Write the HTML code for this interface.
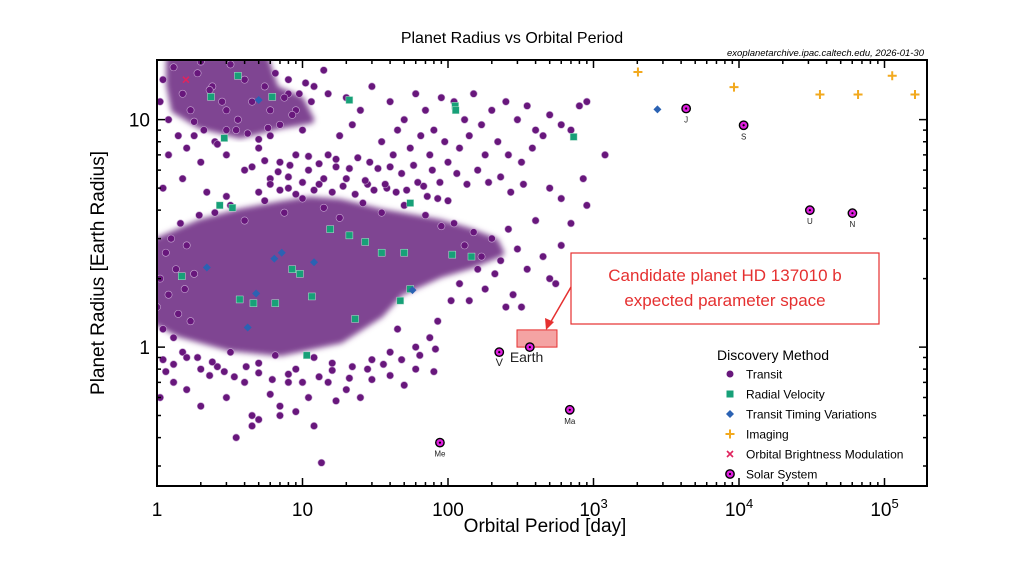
<!DOCTYPE html>
<html><head><meta charset="utf-8"><style>
html,body{margin:0;padding:0;background:#fff;width:1024px;height:577px;overflow:hidden}
svg{display:block;font-family:"Liberation Sans",Arial,sans-serif}
</style></head><body>
<svg id="chart" width="1024" height="577" viewBox="0 0 1024 577">
<defs><filter id="soft" x="-10%" y="-10%" width="120%" height="120%"><feGaussianBlur stdDeviation="3"/></filter></defs>
<text x="512" y="43" text-anchor="middle" font-size="16" fill="#000">Planet Radius vs Orbital Period</text>
<text x="924" y="56" text-anchor="end" font-size="9.5" font-style="italic" fill="#000">exoplanetarchive.ipac.caltech.edu, 2026-01-30</text>
<g id="plot"></g>
<text x="545" y="532" text-anchor="middle" font-size="19" fill="#000">Orbital Period [day]</text>
<text transform="translate(104,273) rotate(-90)" text-anchor="middle" font-size="19" fill="#000">Planet Radius [Earth Radius]</text>
</svg>
<script>
const transitPeriod=[12,15,20,25,30,40,50,60,70,80,90,110,130,150,170,200,250,300,350,400,500,600,800,900,14,9,8,10,18,22,35,45,55,65,75,95,120,140,180,220,260,320,380,450,700,1200,850,600,500,900,
1.2,1.5,2,2.5,3,4,5,6,7,8,9,11,13,15,17,20,24,28,33,38,42,48,58,68,78,88,100,115,135,160,190,230,270,330,1.8,3.5,6,1.1,2.2,
110,130,150,170,200,230,260,300,350,400,450,500,550,120,140,180,210,280,320,600,700,250,105,160,
1.05,1.3,1.6,2,2.3,3,3.5,4,4.5,5,6,7,8,9,11,12,13.5,15,17,20,25,30,40,50,60,80,4.5,7,2.6,1.15,
1,1.05,1.1,1.15,1.2,1.25,1.3,1.35,1.4,1.45,1.5,1.55,1.6,1.7,1.8,1.9,1.95,
2.5,3.2,4,5.5,7.5,10,14,18,26,35,50,70,90,3,
3.2,5,6.5,9,12,16,22,30,40,60,75,85,45,
1.05,1.1,1.2,1.3,1.4,1.5,1.7,1.9,2.1,2.4,2.8,3.2,3.6,4,4.5,5,5.5,6,6.5,7,7.5,8,8.5,9.5,1.6,2.6,3,4.2,2,3,2.3,1.8,5.8,10.5,11.5,
5,6,7,8,9,10,12,14,16,19,23,27,31,37,44,52,62,72,85,100,4.5,5.5,6.8,8.2,11,13,17,21,29,40,
1.1,1.3,1.6,2,2.4,2.9,3.4,4.1,5,6.2,8,10,13,16,21,28,36,48,64,82];
const transitRadius=[14,13,12.5,11,14,12,10,13,11,9,12.5,12,10,13,9.5,11,12,10,11.5,9,10.5,9.5,11.5,12,16.5,11,13,9,8.5,9.5,8,9,7.5,8.5,7,8,7.5,8.5,7,8,7,6.5,7.5,8.5,9,7,5.5,4.5,5,4.2,
7,5.5,6.5,8,7,6,7.5,5.5,6.5,5,7,6,5.2,7,6.2,5.5,6.8,5.2,6.1,5,7,5.8,6.3,5.1,6,5.3,6.5,5.8,5.2,6,5.3,5.6,4.8,5.2,8.5,9,8.5,5,4.8,
3.5,2.8,3.2,2.5,3,2.4,3.3,2.7,2.2,3.6,2.5,2,1.9,1.9,1.6,1.8,2.1,1.7,1.5,2.8,3.5,1.5,1.6,2.2,
0.6,0.7,0.65,0.55,0.75,0.6,0.4,0.7,0.5,0.48,0.62,0.55,0.7,0.52,0.6,0.45,0.31,0.7,0.58,0.65,0.6,0.72,0.75,0.68,0.8,0.78,0.45,0.5,0.82,0.78,
1.5,2,1.2,2.6,1.7,3,1.1,2.2,1.4,3.5,0.95,1.8,2.8,1.3,2.1,0.9,3.8,
3.9,4.2,3.6,4.4,3.9,4.5,4.1,3.7,4.3,3.9,4.2,3.8,3.4,4.6,
0.95,0.85,0.92,0.8,0.9,0.85,0.82,0.88,0.95,1.0,1.1,1.3,1.2,
12,15,10,17,8.5,13,11,16,9,14,12,17.5,10,15,12,8.2,14,11,16,9.5,12.5,15,10.5,13,7.5,7.8,9,8.7,18,11,13.5,9.8,9.2,14.5,12,
4.8,5.2,4.9,5.6,4.7,5.3,4.9,5.5,4.8,5.1,4.7,5.4,4.9,5.2,4.8,4.9,5.3,4.6,4.5,4.4,6.2,6.6,5.9,6.3,6.9,6.4,6.7,6.1,6.5,6.2,
0.88,0.84,0.9,0.8,0.86,0.78,0.74,0.82,0.77,0.72,0.76,0.7,0.74,0.79,0.73,0.8,0.84,0.88,0.92,0.98];
const densePeriod=[1,1.98,3.72,7.0,11.3,18.1,34.1,88,142,210,228,142,88,46.8,34.1,18.1,7.0,3.18,1.44,1];
const denseRadius=[2.9,3.5,3.9,4.2,4.4,4.3,3.9,3.5,3.2,2.9,2.6,2.3,2.1,1.75,1.4,1.08,0.95,1.0,1.15,1.3];
const hotPeriod=[1.23,5.52,6.47,9.6,11.3,7.0,3.72,1.98,1.33,1.23];
const hotRadius=[18.3,18.3,13.6,12.2,10,9.5,8.6,9.5,11.1,14.3];
const rvPeriod=[3.6,2.35,6.2,21,2.9,3.3,2.7,112,113,730,55,15.5,21,27,35,50,107,145,8.5,9.6,11.6,3.7,4.6,6.5,1.48,47,55,10.7,23];
const rvRadius=[15.6,12.6,12.6,12.2,8.3,4.1,4.2,11.5,11,8.4,4.3,3.3,3.1,2.9,2.6,2.6,2.55,2.5,2.2,2.1,1.67,1.62,1.56,1.56,2.05,1.6,1.8,0.92,1.33];
const ttvPeriod=[5,7.2,6.4,12,2.2,4.8,4.2,2750,57];
const ttvRadius=[12.2,2.6,2.45,2.36,2.24,1.72,1.22,11.1,1.78];
const imgPeriod=[2020,9240,36000,65800,113000,162000];
const imgRadius=[16.2,13.9,12.9,12.9,15.6,12.9];
const obmPeriod=[1.58];
const obmRadius=[15];
const solarNames=["Me","V","Earth","Ma","J","S","U","N"];
const solarPeriod=[88,225,365,687,4333,10759,30687,60190];
const solarRadius=[0.38,0.95,1,0.53,11.2,9.45,4.0,3.88];
const candPeriod=[298,561];
const candRadius=[1.0,1.19];
const xTickVals=[1,10,100,1000,10000,100000];
const xTickLabels=["1","10","100","10","10","10"];
const xTickExp=["","","","3","4","5"];
const yTickVals=[1,10];
const yTickLabels=["1","10"];

const NS="http://www.w3.org/2000/svg";
const L=157,R=927,T=60,B=486;
const xMin=0,xMax=(R-L)/145.5;
const yMin=Math.log10(0.245),yMax=Math.log10(18.3);
function xs(p){return L+(Math.log10(p)-xMin)/(xMax-xMin)*(R-L);}
function ys(r){return B-(Math.log10(r)-yMin)/(yMax-yMin)*(B-T);}
const plot=document.getElementById('plot');
function mk(tag,attrs,parent){const e=document.createElementNS(NS,tag);for(const k in attrs)e.setAttribute(k,attrs[k]);(parent||plot).appendChild(e);return e;}

const clip=mk('clipPath',{id:'clip'});mk('rect',{x:L,y:T,width:R-L,height:B-T},clip);
const g=mk('g',{'clip-path':'url(#clip)'});



let d=densePeriod.map((p,i)=>(i?'L':'M')+xs(p)+','+ys(denseRadius[i])).join('')+'Z';
let dp=mk('path',{d:d,fill:'#7f4592',stroke:'#7f4592','stroke-width':8,'stroke-linejoin':'round',filter:'url(#soft)'},g);


d=hotPeriod.map((p,i)=>(i?'L':'M')+xs(p)+','+ys(hotRadius[i])).join('')+'Z';
let hp=mk('path',{d:d,fill:'#7f4592',stroke:'#7f4592','stroke-width':8,'stroke-linejoin':'round',filter:'url(#soft)'},g);



transitPeriod.forEach((p,i)=>{
 const c=mk('circle',{cx:xs(p),cy:ys(transitRadius[i]),r:3.6,fill:'#68177c',stroke:'#c9a8d4','stroke-width':0.6},g);
 
 
});
rvPeriod.forEach((p,i)=>{
 const x=xs(p),y=ys(rvRadius[i]);
 const s=mk('rect',{x:x-3.5,y:y-3.5,width:7,height:7,fill:'#17a078',stroke:'#b8e0d0','stroke-width':0.5},g);
 
 
});
ttvPeriod.forEach((p,i)=>{
 const x=xs(p),y=ys(ttvRadius[i]);
 const s=mk('path',{d:`M${x},${y-4}L${x+4},${y}L${x},${y+4}L${x-4},${y}Z`,fill:'#2b62b3'},g);
 
 
});
imgPeriod.forEach((p,i)=>{
 const x=xs(p),y=ys(imgRadius[i]);
 const s=mk('path',{d:`M${x-4.5},${y}H${x+4.5}M${x},${y-4.5}V${y+4.5}`,stroke:'#f2a91e','stroke-width':2},g);
 
 
});
obmPeriod.forEach((p,i)=>{
 const x=xs(p),y=ys(obmRadius[i]);
 const s=mk('path',{d:`M${x-3},${y-3}L${x+3},${y+3}M${x+3},${y-3}L${x-3},${y+3}`,stroke:'#e0245e','stroke-width':1.6},g);
 
 
});
const cr=mk('rect',{x:xs(candPeriod[0]),y:ys(candRadius[1]),width:xs(candPeriod[1])-xs(candPeriod[0]),height:ys(candRadius[0])-ys(candRadius[1]),fill:'#f4a3a3',stroke:'#e53030','stroke-width':1});


solarPeriod.forEach((p,i)=>{
 const x=xs(p),y=ys(solarRadius[i]);
 const c=mk('circle',{cx:x,cy:y,r:4.2,fill:'#e020e0',stroke:'#000','stroke-width':1.4});
 
 
 const dot=mk('circle',{cx:x,cy:y,r:1.1,fill:'#000'});
 
 
 const big=solarNames[i]==='Earth';
 const t=mk('text',{x:big?x-20:x,y:y+(big?15:14),'text-anchor':big?'start':'middle','font-size':big?14:(solarNames[i]==='V'?11:8),fill:'#222'});
 t.textContent=big?'Earth':solarNames[i];
 
 
});
const fr=mk('rect',{x:L,y:T,width:R-L,height:B-T,fill:'none',stroke:'#000','stroke-width':2});


let tk='';
for(let e=0;e<=5;e++)for(let m=1;m<10;m++){const x=xs(m*Math.pow(10,e));if(x>R)continue;const len=m===1?8:4;tk+=`M${x},${B}v${-len}M${x},${T}v${len}`;}
for(let e=-1;e<=1;e++)for(let m=1;m<10;m++){const v=m*Math.pow(10,e);const y=ys(v);if(y<T||y>B)continue;const len=m===1?8:4;tk+=`M${L},${y}h${len}M${R},${y}h${-len}`;}
const tp=mk('path',{d:tk,stroke:'#000','stroke-width':1.5});


xTickVals.forEach((v,i)=>{
 const t=mk('text',{x:xs(v),y:516,'text-anchor':'middle','font-size':19,fill:'#000'});
 t.textContent=xTickLabels[i];
 if(xTickExp[i]){const s=mk('tspan',{dy:-8,'font-size':13},t);s.textContent=xTickExp[i];}
 
 
});
yTickVals.forEach((v,i)=>{
 const t=mk('text',{x:150,y:ys(v)+7,'text-anchor':'end','font-size':19,fill:'#000'});
 t.textContent=yTickLabels[i];
 
 
});
const ab=mk('rect',{x:571,y:253,width:308,height:71,fill:'#fff',stroke:'#e53030','stroke-width':1.2});


[["Candidate planet HD 137010 b",281],["expected parameter space",306]].forEach(a=>{
 const t=mk('text',{x:725,y:a[1],'text-anchor':'middle','font-size':17,fill:'#e53030'});
 t.textContent=a[0];
 
 
});
const ar=mk('path',{d:'M571,287L549,325',stroke:'#e53030','stroke-width':1.5});


const ah=mk('path',{d:'M546,330L545,318L554,322Z',fill:'#e53030'});


const lg=mk('g',{});


const lt=mk('text',{x:717,y:360,'font-size':14,fill:'#000'},lg);lt.textContent='Discovery Method';


const items=['Transit','Radial Velocity','Transit Timing Variations','Imaging','Orbital Brightness Modulation','Solar System'];
items.forEach((n,i)=>{
 const y=374+i*20,x=730;
 let m;
 if(i===0)m=mk('circle',{cx:x,cy:y,r:3.5,fill:'#68177c'},lg);
 if(i===1)m=mk('rect',{x:x-3.5,y:y-3.5,width:7,height:7,fill:'#17a078'},lg);
 if(i===2)m=mk('path',{d:`M${x},${y-4}L${x+4},${y}L${x},${y+4}L${x-4},${y}Z`,fill:'#2b62b3'},lg);
 if(i===3)m=mk('path',{d:`M${x-4.5},${y}H${x+4.5}M${x},${y-4.5}V${y+4.5}`,stroke:'#f2a91e','stroke-width':2},lg);
 if(i===4)m=mk('path',{d:`M${x-3},${y-3}L${x+3},${y+3}M${x+3},${y-3}L${x-3},${y+3}`,stroke:'#e0245e','stroke-width':1.6},lg);
 if(i===5){m=mk('circle',{cx:x,cy:y,r:4.2,fill:'#e020e0',stroke:'#000','stroke-width':1.4},lg);mk('circle',{cx:x,cy:y,r:1.1,fill:'#000'},lg);}
 
 
 const t=mk('text',{x:746,y:y+4.5,'font-size':12,fill:'#000'},lg);t.textContent=n;
 
 
});
</script>
</body></html>
